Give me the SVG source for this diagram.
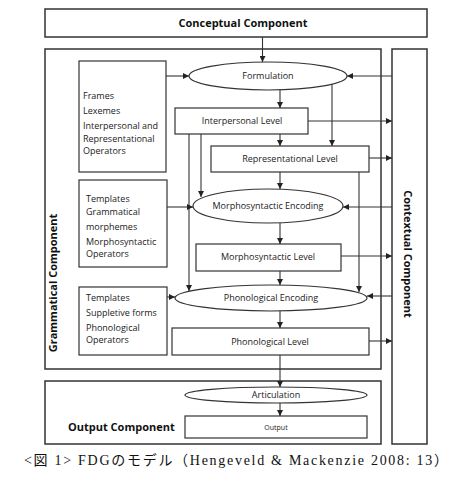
<svg xmlns="http://www.w3.org/2000/svg" width="465" height="482" viewBox="0 0 465 482">
<style>
.outer{fill:#fff;stroke:#333;stroke-width:1.5}
.box{fill:#fff;stroke:#333;stroke-width:1.2}
.t{font-family:"Open Sans","DejaVu Sans",sans-serif;font-size:9px;fill:#222}
.c{text-anchor:middle}
.b{font-family:"Open Sans","DejaVu Sans",sans-serif;font-size:11px;font-weight:bold;fill:#111}
.con path{fill:none;stroke:#333;stroke-width:1.1;marker-end:url(#ah)}
.cap{font-family:"Liberation Serif","Noto Sans CJK JP",serif;font-size:14px;fill:#111}
</style>
<defs>
<marker id="ah" viewBox="0 0 10 10" refX="10" refY="5" markerWidth="6" markerHeight="6" markerUnits="userSpaceOnUse" orient="auto">
<path d="M0,0 L10,5 L0,10 z" fill="#222"/>
</marker>
</defs>
<rect width="465" height="482" fill="#fff"/>
<g id="conceptual">
<rect class="outer" x="45" y="9" width="382" height="28"/>
<text class="b c" x="243" y="27">Conceptual Component</text>
</g>
<g id="grammatical">
<rect class="outer" x="45" y="49" width="336" height="320"/>
<text class="b c" transform="translate(57,283) rotate(-90)">Grammatical Component</text>
</g>
<g id="contextual">
<rect class="outer" x="392" y="49" width="35" height="395"/>
<text class="b c" transform="translate(404,254) rotate(90)">Contextual Component</text>
</g>
<g id="output-component">
<rect class="outer" x="45" y="381" width="336" height="63"/>
<text class="b" x="68" y="431">Output Component</text>
</g>
<g id="frames">
<rect class="box" x="79" y="61" width="87" height="111"/>
<text class="t" x="83" y="99">Frames</text>
<text class="t" x="83" y="114">Lexemes</text>
<text class="t" x="83" y="129">Interpersonal and</text>
<text class="t" x="83" y="141.5">Representational</text>
<text class="t" x="83" y="154">Operators</text>
</g>
<g id="templates-morph">
<rect class="box" x="79" y="180" width="88" height="87"/>
<text class="t" x="86" y="202">Templates</text>
<text class="t" x="86" y="214.5">Grammatical</text>
<text class="t" x="86" y="230">morphemes</text>
<text class="t" x="86" y="244.5">Morphosyntactic</text>
<text class="t" x="86" y="257">Operators</text>
</g>
<g id="templates-phon">
<rect class="box" x="79" y="287" width="88" height="68"/>
<text class="t" x="86" y="301">Templates</text>
<text class="t" x="86" y="316">Suppletive forms</text>
<text class="t" x="86" y="330.5">Phonological</text>
<text class="t" x="86" y="343">Operators</text>
</g>
<g id="formulation">
<ellipse class="box" cx="268" cy="76" rx="79" ry="14"/>
<text class="t c" x="268" y="79">Formulation</text>
</g>
<g id="interpersonal">
<rect class="box" x="175" y="108" width="133" height="26"/>
<text class="t c" x="242" y="124">Interpersonal Level</text>
</g>
<g id="representational">
<rect class="box" x="211" y="146" width="158" height="26"/>
<text class="t c" x="290" y="162">Representational Level</text>
</g>
<g id="morph-encoding">
<ellipse class="box" cx="268" cy="206" rx="75" ry="17"/>
<text class="t c" x="268" y="209">Morphosyntactic Encoding</text>
</g>
<g id="morph-level">
<rect class="box" x="196" y="244" width="145" height="27"/>
<text class="t c" x="268" y="260">Morphosyntactic Level</text>
</g>
<g id="phon-encoding">
<ellipse class="box" cx="271" cy="298" rx="96" ry="13"/>
<text class="t c" x="271" y="301">Phonological Encoding</text>
</g>
<g id="phon-level">
<rect class="box" x="172" y="328" width="197" height="27"/>
<text class="t c" x="270" y="345">Phonological Level</text>
</g>
<g id="articulation">
<ellipse class="box" cx="276" cy="395" rx="91" ry="8"/>
<text class="t c" x="276" y="398">Articulation</text>
</g>
<g id="output">
<rect class="box" x="185" y="416" width="182" height="22"/>
<text class="t c" x="276" y="430" style="font-size:7px">Output</text>
</g>
<g id="connectors" class="con">
<path d="M262.5,37 V62"/>
<path d="M166,76 H189"/>
<path d="M392,76 H347"/>
<path d="M280,90 V108"/>
<path d="M332,84 V146"/>
<path d="M308,121 H392"/>
<path d="M280,134 V146"/>
<path d="M201,134 V197"/>
<path d="M189,134 V291"/>
<path d="M280,172 V189"/>
<path d="M369,158 H392"/>
<path d="M359,172 V292"/>
<path d="M167,207 H193"/>
<path d="M392,207 H343"/>
<path d="M280,223 V244"/>
<path d="M341,256 H392"/>
<path d="M280,271 V285"/>
<path d="M167,297 H175"/>
<path d="M392,296 H367"/>
<path d="M280,311 V328"/>
<path d="M369,341 H392"/>
<path d="M280,355 V387"/>
<path d="M280,403 V416"/>
</g>
<text class="cap" x="24" y="465" textLength="424" lengthAdjust="spacing">&lt;図 1&gt; FDGのモデル（Hengeveld &amp; Mackenzie 2008: 13）</text>
</svg>
